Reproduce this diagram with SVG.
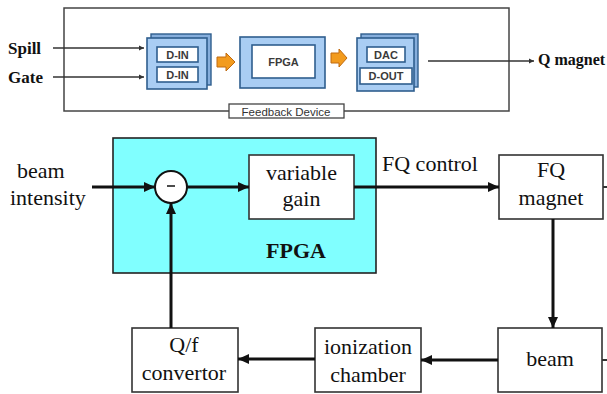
<svg xmlns="http://www.w3.org/2000/svg" width="607" height="394" viewBox="0 0 607 394">
<defs>
<style>
.sans{font-family:"Liberation Sans",Arial,sans-serif;}
.serif{font-family:"Liberation Serif","Times New Roman",serif;}
.lbl{font-size:22px;fill:#111;text-anchor:middle;}
.box{fill:#fff;stroke:#333;stroke-width:1.6;}
.plate{fill:#A9CDF3;stroke:#2F5E8E;stroke-width:1.6;}
.plateback{fill:#86AEDC;stroke:#2F5E8E;stroke-width:1.4;}
.inner{fill:#fff;stroke:#2F5E8E;stroke-width:1.6;}
.chip{font-size:11px;font-weight:bold;fill:#3a3a3a;text-anchor:middle;}
.thin{stroke:#333;stroke-width:1.3;fill:none;}
.wire{stroke:#111;stroke-width:3;fill:none;}
.orange{fill:#F29B1E;stroke:#C06A10;stroke-width:1;}
</style>
<marker id="arr" markerUnits="userSpaceOnUse" markerWidth="12" markerHeight="12" refX="11" refY="6" orient="auto">
<path d="M0,1 L11,6 L0,11 Z" fill="#111"/>
</marker>
<marker id="dot" markerUnits="userSpaceOnUse" markerWidth="6" markerHeight="6" refX="5" refY="3" orient="auto">
<path d="M0,0.5 L5,3 L0,5.5 Z" fill="#333"/>
</marker>
</defs>
<rect width="607" height="394" fill="#fff"/>

<!-- Top panel: feedback device -->
<g id="feedback-device">
<rect x="64" y="8" width="445" height="103" fill="none" stroke="#444" stroke-width="1.5"/>
<rect x="229" y="104" width="115" height="14" fill="#fff" stroke="#444" stroke-width="1.3"/>
<text x="286" y="115.5" class="sans" font-size="11.5" fill="#333" text-anchor="middle">Feedback Device</text>
</g>

<g id="din-stack">
<rect x="151" y="34" width="60" height="51" class="plateback"/>
<rect x="147" y="38" width="60" height="51" class="plate"/>
<rect x="157" y="47" width="41" height="15" class="inner"/>
<rect x="157" y="67" width="41" height="15" class="inner"/>
<text x="177.5" y="58.5" class="sans chip">D-IN</text>
<text x="177.5" y="78.5" class="sans chip">D-IN</text>
</g>

<g id="fpga-top">
<rect x="240" y="37" width="85" height="51" class="plate"/>
<rect x="252" y="45" width="63" height="33" class="inner"/>
<text x="283.5" y="65.5" class="sans chip">FPGA</text>
</g>

<g id="dac-stack">
<rect x="361" y="34" width="57" height="53" class="plateback"/>
<rect x="357" y="38" width="57" height="53" class="plate"/>
<rect x="367" y="47" width="38" height="15" class="inner"/>
<rect x="360" y="68" width="52" height="16" class="inner"/>
<text x="386" y="58.5" class="sans chip">DAC</text>
<text x="386" y="80" class="sans chip">D-OUT</text>
</g>

<g id="orange-arrows">
<path d="M217,57 L226,57 L226,53 L235,62 L226,71 L226,67 L217,67 Z" class="orange"/>
<path d="M331,53 L339,53 L339,49 L347,58 L339,67 L339,63 L331,63 Z" class="orange"/>
</g>

<g id="top-labels">
<text x="8" y="54" class="serif" font-size="17" font-weight="bold" fill="#111">Spill</text>
<text x="8" y="83" class="serif" font-size="17" font-weight="bold" fill="#111">Gate</text>
<text x="538" y="65" class="serif" font-size="16" font-weight="bold" fill="#111">Q magnet</text>
</g>

<g id="top-connectors">
<line x1="53" y1="48" x2="144" y2="48" class="thin" marker-end="url(#dot)"/>
<line x1="53" y1="77" x2="144" y2="77" class="thin" marker-end="url(#dot)"/>
<line x1="428" y1="61" x2="534" y2="61" class="thin" marker-end="url(#dot)"/>
</g>

<!-- Bottom: control loop -->
<g id="fpga">
<rect x="113" y="138" width="263" height="135" fill="#80FFFF" stroke="#222" stroke-width="1.6"/>
<text x="296" y="258" class="serif" font-size="22" font-weight="bold" fill="#111" text-anchor="middle">FPGA</text>
</g>

<g id="subtractor">
<circle cx="171" cy="187" r="16" fill="#fff" stroke="#111" stroke-width="2"/>
<line x1="167" y1="186" x2="175" y2="186" stroke="#111" stroke-width="1.5"/>
</g>

<g id="variable-gain">
<rect x="249" y="155" width="105" height="64" class="box"/>
<text x="301.5" y="180" class="serif lbl">variable</text>
<text x="301.5" y="206" class="serif lbl">gain</text>
</g>

<g id="fq-magnet">
<rect x="499" y="155" width="104" height="64" class="box"/>
<text x="551" y="177" class="serif lbl">FQ</text>
<text x="551" y="205" class="serif lbl">magnet</text>
</g>

<g id="beam">
<rect x="498" y="328" width="104" height="64" class="box"/>
<text x="550" y="366" class="serif lbl">beam</text>
</g>

<g id="ionization-chamber">
<rect x="315" y="328" width="106" height="64" class="box"/>
<text x="368" y="354" class="serif lbl">ionization</text>
<text x="368" y="382" class="serif lbl">chamber</text>
</g>

<g id="qf-convertor">
<rect x="132" y="328" width="106" height="64" class="box"/>
<text x="184" y="352" class="serif lbl">Q/f</text>
<text x="184" y="380" class="serif lbl">convertor</text>
</g>

<g id="bottom-labels">
<text x="17" y="178" class="serif" font-size="22" fill="#111">beam</text>
<text x="10" y="205" class="serif" font-size="22" fill="#111">intensity</text>
<text x="382" y="171" class="serif" font-size="22" fill="#111">FQ control</text>
</g>

<g id="connectors">
<line x1="92" y1="187" x2="155" y2="187" class="wire" marker-end="url(#arr)"/>
<line x1="187" y1="187" x2="249" y2="187" class="wire" marker-end="url(#arr)"/>
<line x1="354" y1="187" x2="499" y2="187" class="wire" marker-end="url(#arr)"/>
<line x1="553" y1="219" x2="553" y2="328" class="wire" marker-end="url(#arr)"/>
<line x1="498" y1="360" x2="421" y2="360" class="wire" marker-end="url(#arr)"/>
<line x1="315" y1="359" x2="238" y2="359" class="wire" marker-end="url(#arr)"/>
<line x1="171" y1="328" x2="171" y2="203" class="wire" marker-end="url(#arr)"/>
<line x1="603" y1="187" x2="607" y2="187" stroke="#333" stroke-width="2"/>
<line x1="602" y1="360" x2="607" y2="360" stroke="#333" stroke-width="2"/>
</g>
</svg>
